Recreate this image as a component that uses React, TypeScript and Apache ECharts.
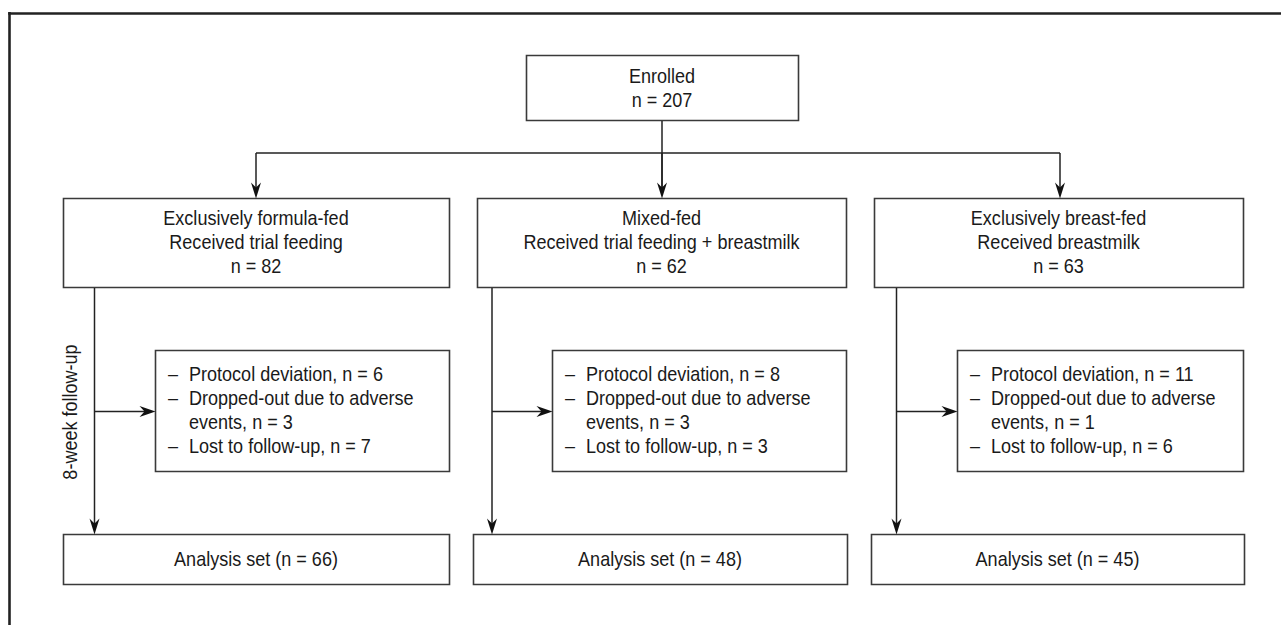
import React, { useEffect, useRef } from "react";
import * as echarts from "echarts";

// ---- data ----
const enrolledLabel = "Enrolled";
const enrolledN = 207;
const groupNames = ["Exclusively formula-fed", "Mixed-fed", "Exclusively breast-fed"];
const groupFeeding = ["Received trial feeding", "Received trial feeding + breastmilk", "Received breastmilk"];
const groupN = [82, 62, 63];
const protocolDeviation = [6, 8, 11];
const droppedAdverse = [3, 3, 1];
const lostFollowUp = [7, 3, 6];
const analysisN = [66, 48, 45];
const followUpLabel = "8-week follow-up";

// ---- layout ----
const enrolledBox = { x0: 526, x1: 798, y0: 55, y1: 120 };
const topBoxesX = [[63, 449], [477, 846], [874, 1243]];
const topY = [198, 287];
const sideBoxesX = [[155, 449], [552, 846], [957, 1243]];
const sideY = [350, 471];
const bottomBoxesX = [[63, 449], [473, 847], [871, 1244]];
const bottomY = [534, 584];
const trunkX = [94.5, 492, 896.5];
const branchY = 153;
const branchX = [256, 662, 1060];
const arrowY = 411;

const STROKE = "#3a3a3a";
const TEXT = "#1a1a1a";
const FONT = '20.5px "Liberation Sans", Arial, sans-serif';
const SX = 0.88;

function box(x0: number, y0: number, x1: number, y1: number) {
  return {
    type: "rect",
    shape: { x: x0 + 0.5, y: y0 + 0.5, width: x1 - x0, height: y1 - y0 },
    style: { fill: "#fff", stroke: STROKE, lineWidth: 1.6 },
    z: 1,
  };
}
function line(x1: number, y1: number, x2: number, y2: number) {
  return {
    type: "line",
    shape: { x1, y1, x2, y2 },
    style: { stroke: "#222", lineWidth: 1.5 },
    z: 2,
  };
}
function arrowDown(x: number, tipY: number) {
  return {
    type: "polygon",
    shape: { points: [[x, tipY], [x - 5, tipY - 16], [x, tipY - 11], [x + 5, tipY - 16]] },
    style: { fill: "#111" },
    z: 3,
  };
}
function arrowRight(tipX: number, y: number) {
  return {
    type: "polygon",
    shape: { points: [[tipX, y], [tipX - 16, y - 5.5], [tipX - 11, y], [tipX - 16, y + 5.5]] },
    style: { fill: "#111" },
    z: 3,
  };
}
function text(t: string, x: number, y: number, align: string = "center", rotation = 0) {
  return {
    type: "text",
    x,
    y,
    rotation,
    scaleX: SX,
    z: 5,
    style: { text: t, font: FONT, fill: TEXT, align, verticalAlign: "middle" },
  };
}

export default function App() {
  const ref = useRef<HTMLDivElement>(null);
  useEffect(() => {
    document.body.style.margin = "0";
    const chart = echarts.init(ref.current!, null, { renderer: "svg" });
    const els: any[] = [];
    // outer frame
    els.push({ type: "line", shape: { x1: 9.5, y1: 12, x2: 9.5, y2: 700 }, style: { stroke: "#222", lineWidth: 2.6 } });
    els.push({ type: "line", shape: { x1: 8.2, y1: 13.5, x2: 1400, y2: 13.5 }, style: { stroke: "#222", lineWidth: 2.6 } });

    // enrolled
    const eb = enrolledBox;
    els.push(box(eb.x0, eb.y0, eb.x1, eb.y1));
    const ecx = (eb.x0 + eb.x1) / 2;
    els.push(text(enrolledLabel, ecx, 76.5));
    els.push(text(`n = ${enrolledN}`, ecx, 100.5));
    els.push(line(branchX[1], eb.y1 + 1, branchX[1], topY[0] - 4));
    els.push(line(branchX[0], branchY, branchX[2], branchY));
    branchX.forEach((bx) => {
      els.push(line(bx, branchY, bx, topY[0] - 4));
      els.push(arrowDown(bx, topY[0] + 0.5));
    });

    for (let i = 0; i < 3; i++) {
      const [tx0, tx1] = topBoxesX[i];
      const tcx = (tx0 + tx1) / 2;
      els.push(box(tx0, topY[0], tx1, topY[1]));
      els.push(text(groupNames[i], tcx, 218.5));
      els.push(text(groupFeeding[i], tcx, 242.5));
      els.push(text(`n = ${groupN[i]}`, tcx, 266.5));

      // trunk
      els.push(line(trunkX[i], topY[1] + 1, trunkX[i], bottomY[0] - 4));
      els.push(arrowDown(trunkX[i], bottomY[0] + 0.5));
      // side arrow
      const [sx0, sx1] = sideBoxesX[i];
      els.push(line(trunkX[i], arrowY + 0.5, sx0 - 4, arrowY + 0.5));
      els.push(arrowRight(sx0 + 0.5, arrowY + 0.5));
      els.push(box(sx0, sideY[0], sx1, sideY[1]));
      const dx = sx0 + 13;
      const tx = sx0 + 34;
      const ly = [374.5, 398.5, 422.5, 446.5];
      els.push(text("–", dx, ly[0], "left"));
      els.push(text(`Protocol deviation, n = ${protocolDeviation[i]}`, tx, ly[0], "left"));
      els.push(text("–", dx, ly[1], "left"));
      els.push(text("Dropped-out due to adverse", tx, ly[1], "left"));
      els.push(text(`events, n = ${droppedAdverse[i]}`, tx, ly[2], "left"));
      els.push(text("–", dx, ly[3], "left"));
      els.push(text(`Lost to follow-up, n = ${lostFollowUp[i]}`, tx, ly[3], "left"));

      // bottom
      const [bx0, bx1] = bottomBoxesX[i];
      els.push(box(bx0, bottomY[0], bx1, bottomY[1]));
      els.push(text(`Analysis set (n = ${analysisN[i]})`, (bx0 + bx1) / 2, 559.5));
    }
    els.push(text(followUpLabel, 70, 412, "center", Math.PI / 2));

    chart.setOption({ animation: false, graphic: { elements: els } });
    return () => chart.dispose();
  }, []);
  return <div ref={ref} style={{ width: 1281, height: 625, background: "#fff" }} />;
}
